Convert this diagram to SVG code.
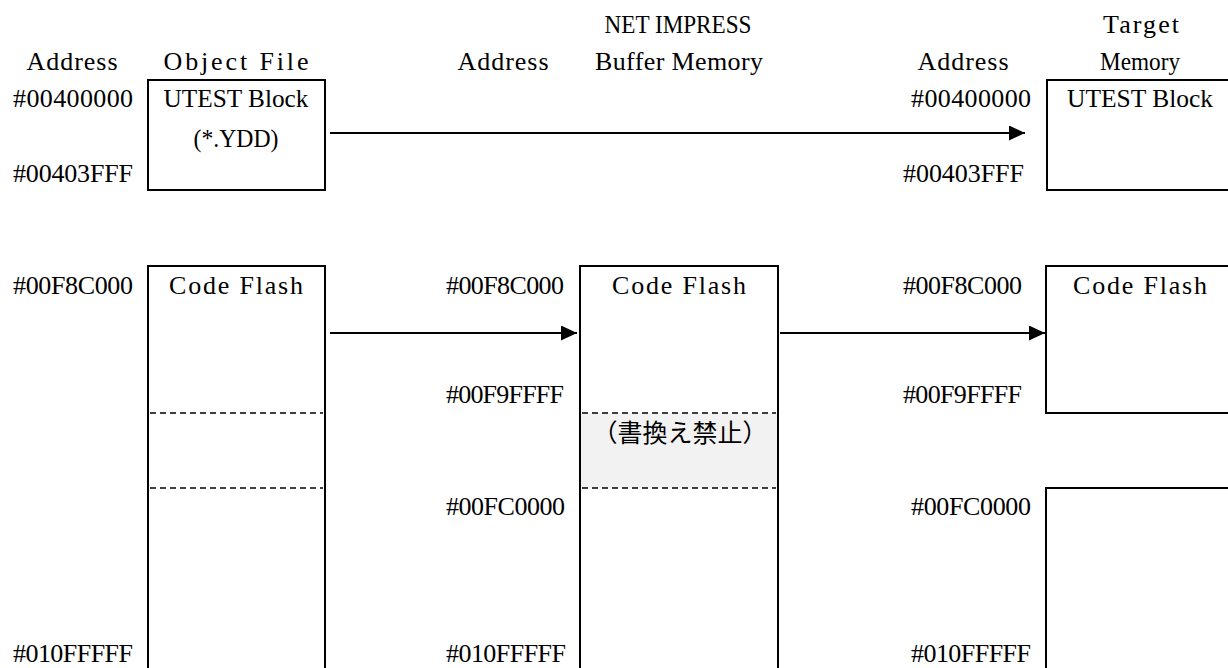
<svg xmlns="http://www.w3.org/2000/svg" width="1228" height="668" viewBox="0 0 1228 668">
<style>
.t{font-family:"Liberation Serif","Noto Sans CJK JP",serif;font-size:26px;fill:#000}
.h{font-family:"Liberation Serif",serif;font-size:26px;fill:#000}
.j{font-family:"Noto Sans CJK JP",sans-serif;font-size:25px;fill:#000}
.m{text-anchor:middle}
.box{fill:#fff;stroke:#000;stroke-width:2}
.dash{stroke:#000;stroke-width:1.5;stroke-dasharray:6 4;fill:none}
.conn{stroke:#000;stroke-width:2;fill:none;marker-end:url(#ah)}
</style>
<defs>
<marker id="ah" markerUnits="userSpaceOnUse" markerWidth="16" markerHeight="15" refX="16" refY="7.5" orient="auto">
<path d="M0,0 L16,7.5 L0,15 Z" fill="#000"/>
</marker>
</defs>
<rect width="1228" height="668" fill="#fff"/>

<g id="headers">
<text class="t m" x="72" y="70" textLength="91">Address</text>
<text class="t m" x="236" y="70" textLength="145">Object File</text>
<text class="t m" x="503" y="70" textLength="91">Address</text>
<text class="t m" x="678" y="33" textLength="147" lengthAdjust="spacingAndGlyphs">NET IMPRESS</text>
<text class="t m" x="679" y="70" textLength="168">Buffer Memory</text>
<text class="t m" x="963" y="70" textLength="91">Address</text>
<text class="t m" x="1141" y="33" textLength="76">Target</text>
<text class="t m" x="1140" y="70" textLength="80" lengthAdjust="spacingAndGlyphs">Memory</text>
</g>

<g id="addr-left">
<text class="h" x="13" y="107" textLength="120">#00400000</text>
<text class="h" x="13" y="182" textLength="120">#00403FFF</text>
<text class="h" x="13" y="294" textLength="120">#00F8C000</text>
<text class="h" x="13" y="662" textLength="120">#010FFFFF</text>
</g>

<g id="addr-mid">
<text class="h" x="446" y="294" textLength="118">#00F8C000</text>
<text class="h" x="446" y="403" textLength="118">#00F9FFFF</text>
<text class="h" x="446" y="515" textLength="119">#00FC0000</text>
<text class="h" x="446" y="662" textLength="120">#010FFFFF</text>
</g>

<g id="addr-right">
<text class="h" x="911" y="107" textLength="120">#00400000</text>
<text class="h" x="903" y="182" textLength="121">#00403FFF</text>
<text class="h" x="903" y="294" textLength="119">#00F8C000</text>
<text class="h" x="903" y="403" textLength="119">#00F9FFFF</text>
<text class="h" x="911" y="515" textLength="120">#00FC0000</text>
<text class="h" x="911" y="662" textLength="120">#010FFFFF</text>
</g>

<g id="obj-utest">
<rect class="box" x="148" y="80" width="177" height="110"/>
<text class="t m" x="236" y="107" textLength="145" lengthAdjust="spacingAndGlyphs">UTEST Block</text>
<text class="t m" x="236" y="147" textLength="85" lengthAdjust="spacingAndGlyphs">(*.YDD)</text>
</g>

<g id="tgt-utest">
<rect class="box" x="1047" y="80" width="220" height="110"/>
<text class="t m" x="1140" y="107" textLength="146" lengthAdjust="spacingAndGlyphs">UTEST Block</text>
</g>

<g id="obj-flash">
<rect class="box" x="148" y="266" width="177" height="440"/>
<text class="t m" x="236" y="294" textLength="134">Code Flash</text>
<line class="dash" x1="150" y1="413" x2="323" y2="413"/>
<line class="dash" x1="150" y1="488" x2="323" y2="488"/>
</g>

<g id="buf-flash">
<rect class="box" x="580" y="266" width="198" height="440"/>
<rect x="581" y="413" width="196" height="75" fill="#f2f2f2"/>
<text class="t m" x="679" y="294" textLength="134">Code Flash</text>
<text class="j m" x="680" y="442">（書換え禁止）</text>
<line class="dash" x1="582" y1="413" x2="776" y2="413"/>
<line class="dash" x1="582" y1="488" x2="776" y2="488"/>
</g>

<g id="tgt-flash">
<rect class="box" x="1046" y="266" width="220" height="147"/>
<text class="t m" x="1140" y="294" textLength="134">Code Flash</text>
</g>

<g id="tgt-lower">
<rect class="box" x="1046" y="488" width="220" height="220"/>
</g>

<g id="connectors">
<line class="conn" x1="330" y1="133" x2="1025" y2="133"/>
<line class="conn" x1="330" y1="333" x2="577" y2="333"/>
<line class="conn" x1="780" y1="333" x2="1045" y2="333"/>
</g>
</svg>
